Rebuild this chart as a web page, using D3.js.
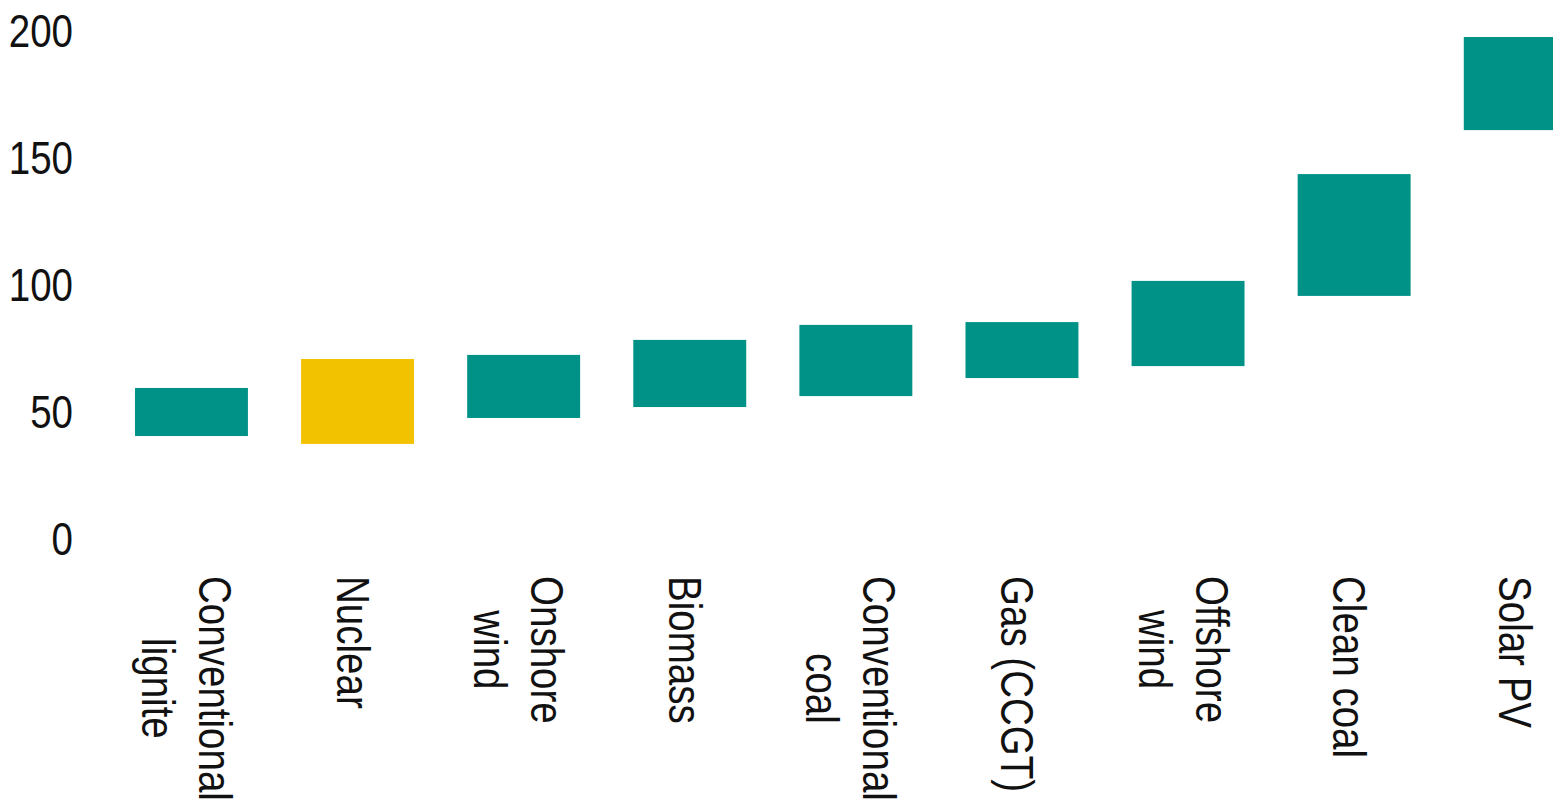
<!DOCTYPE html>
<html lang="en">
    <head>
        <meta charset="utf-8">
        <title>Cost ranges by technology</title>
        <script type="text/javascript" src="https://cdn.jsdelivr.net/npm/d3@7/dist/d3.min.js"></script>
        <style type="text/css">
            body { margin: 0; background: #fff; }
            svg { display: block; }
            /*Narrow look: Liberation Sans squeezed horizontally (see transforms below)*/
            .axis text, .cat text {
                font-family: "Liberation Sans", Arial, sans-serif;
                font-size: 47px;
                fill: #111;
            }
            .axis path, .axis line { display: none; }
        </style>
    </head>
    <body>
        <script type="text/javascript">
            //Data: low and high end of each range
            var categories = ["Conventional\nlignite", "Nuclear", "Onshore\nwind", "Biomass",
                              "Conventional\ncoal", "Gas (CCGT)", "Offshore\nwind", "Clean coal", "Solar PV"];
            var lowValues  = [40.1, 37.0, 47.2, 51.5, 55.8, 62.9, 67.6, 95.2, 160.4];
            var highValues = [59.0, 70.4, 72.0, 77.9, 83.8, 84.9, 101.1, 143.1, 197.0];
            var highlighted = ["Nuclear"];
            var yTicks = [0, 50, 100, 150, 200];

            var w = 1553;
            var h = 809;
            var squeeze = 0.82;

            var svg = d3.select("body")
                        .append("svg")
                        .attr("width", w)
                        .attr("height", h);

            var dataset = categories.map(function(c, i) {
                return { name: c, low: lowValues[i], high: highValues[i] };
            });

            //Scales (chart runs off the right edge, like the original)
            var xScale = d3.scaleBand()
                            .domain(categories)
                            .range([108.4, 1603.3])
                            .paddingInner(0.32)
                            .paddingOuter(0.16);

            var yScale = d3.scaleLinear()
                            .domain([0, 200])
                            .range([538, 29.4]);

            //Floating bars
            svg.selectAll("rect.bar")
                .data(dataset)
                .enter()
                .append("rect")
                .attr("class", "bar")
                .attr("x", function(d) { return xScale(d.name); })
                .attr("width", xScale.bandwidth())
                .attr("y", function(d) { return yScale(d.high); })
                .attr("height", function(d) { return yScale(d.low) - yScale(d.high); })
                .attr("fill", function(d) {
                    return highlighted.indexOf(d.name) >= 0 ? "#F2C200" : "#009286";
                });

            //Y axis, labels only
            var yAxis = d3.axisLeft()
                            .scale(yScale)
                            .tickValues(yTicks)
                            .tickSize(0)
                            .tickPadding(0);

            svg.append("g")
                .attr("class", "axis")
                .attr("transform", "translate(73,0)")
                .call(yAxis)
                .selectAll("text")
                .attr("dy", "0.36em")
                .attr("transform", "scale(" + squeeze + ",1)");

            //Rotated category labels, reading downwards, lines centred on each other
            var lineH = 57;
            var cats = svg.append("g").attr("class", "cat");

            dataset.forEach(function(d) {
                var lines = d.name.split("\n");
                var cx = xScale(d.name) + xScale.bandwidth() / 2;
                var base = cx + (lines.length - 1) * lineH / 2 - 21;
                var t = cats.append("text")
                            .attr("text-anchor", "middle")
                            .attr("transform", "translate(" + base + ",576) rotate(90) scale(" + squeeze + ",1)");
                var spans = lines.map(function(line, i) {
                    return t.append("tspan")
                        .attr("y", i * lineH)
                        .text(line);
                });
                //longest line starts at the top, the others sit centred on it
                var longest = d3.max(spans, function(s) { return s.node().getComputedTextLength(); });
                spans.forEach(function(s) { s.attr("x", longest / 2); });
            });
        </script>
    </body>
</html>
